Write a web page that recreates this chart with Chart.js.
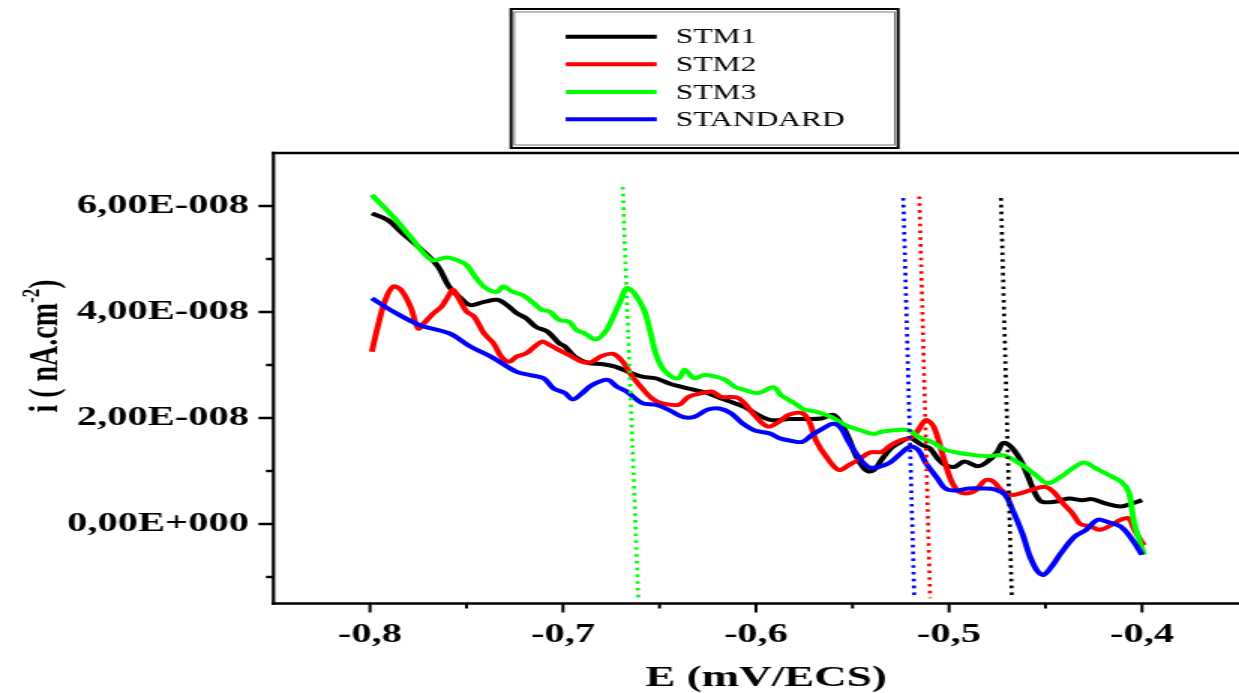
<!DOCTYPE html>
<html><head><meta charset="utf-8">
<script src="https://cdn.jsdelivr.net/npm/chart.js@4"></script>
<style>
html,body{margin:0;padding:0;background:#fff;overflow:hidden;}
#wrap{position:absolute;left:0;top:0;width:826px;height:693px;transform:scaleX(1.5);transform-origin:0 0;}
canvas{display:block;}
</style></head><body>
<div id="wrap"><canvas id="c" width="826" height="693" style="width:826px;height:693px"></canvas></div>
<script>
// ---- data (E in V, i in units of 1E-8 A/cm2) ----
const seriesNames = ['STM1', 'STM2', 'STM3', 'STANDARD'];
const seriesColors = ['#000000', '#ff0000', '#00ff00', '#0000ff'];

const stm1E = [-0.799,-0.791,-0.783,-0.774,-0.765,-0.759,-0.753,-0.748,-0.741,-0.734,-0.729,-0.724,-0.719,-0.714,-0.708,-0.702,-0.699,-0.694,-0.687,-0.680,-0.673,-0.666,-0.659,-0.652,-0.645,-0.639,-0.632,-0.625,-0.618,-0.611,-0.606,-0.599,-0.592,-0.583,-0.575,-0.566,-0.560,-0.556,-0.552,-0.548,-0.544,-0.541,-0.538,-0.535,-0.530,-0.525,-0.520,-0.514,-0.510,-0.506,-0.502,-0.497,-0.492,-0.485,-0.480,-0.475,-0.472,-0.468,-0.463,-0.459,-0.455,-0.452,-0.445,-0.438,-0.431,-0.426,-0.419,-0.411,-0.405,-0.400];
const stm1I = [5.86,5.74,5.48,5.20,4.87,4.48,4.26,4.13,4.19,4.23,4.13,3.98,3.88,3.72,3.63,3.41,3.35,3.16,3.04,3.02,2.97,2.87,2.78,2.75,2.65,2.59,2.53,2.47,2.37,2.28,2.21,2.06,1.96,1.98,1.98,1.99,2.06,1.90,1.62,1.27,1.05,0.99,1.05,1.21,1.43,1.55,1.62,1.49,1.43,1.24,1.11,1.08,1.18,1.09,1.18,1.36,1.53,1.46,1.21,0.89,0.55,0.42,0.42,0.48,0.45,0.47,0.39,0.33,0.39,0.45];

const stm2E = [-0.799,-0.796,-0.792,-0.788,-0.784,-0.779,-0.775,-0.772,-0.767,-0.763,-0.759,-0.757,-0.753,-0.750,-0.746,-0.741,-0.736,-0.732,-0.728,-0.724,-0.719,-0.711,-0.707,-0.702,-0.697,-0.690,-0.685,-0.680,-0.674,-0.669,-0.664,-0.659,-0.654,-0.649,-0.640,-0.635,-0.628,-0.623,-0.618,-0.610,-0.606,-0.601,-0.594,-0.588,-0.583,-0.576,-0.572,-0.569,-0.563,-0.557,-0.552,-0.547,-0.541,-0.535,-0.530,-0.525,-0.519,-0.516,-0.512,-0.508,-0.503,-0.499,-0.495,-0.490,-0.486,-0.481,-0.477,-0.473,-0.468,-0.463,-0.457,-0.450,-0.446,-0.441,-0.436,-0.432,-0.427,-0.422,-0.416,-0.411,-0.407,-0.404,-0.399];
const stm2I = [3.25,3.72,4.23,4.48,4.42,4.10,3.69,3.79,3.98,4.10,4.32,4.42,4.19,4.01,3.91,3.60,3.41,3.16,3.06,3.16,3.22,3.44,3.38,3.28,3.19,3.06,3.06,3.17,3.21,3.06,2.78,2.56,2.37,2.28,2.25,2.40,2.47,2.50,2.40,2.39,2.28,2.06,1.84,1.93,2.06,2.09,1.90,1.58,1.24,1.02,1.11,1.21,1.35,1.36,1.49,1.58,1.64,1.77,1.96,1.84,1.27,0.83,0.61,0.58,0.64,0.83,0.80,0.64,0.55,0.58,0.65,0.70,0.61,0.39,0.20,0.00,-0.04,-0.11,-0.02,0.08,0.11,-0.11,-0.40];

const stm3E = [-0.799,-0.788,-0.779,-0.768,-0.760,-0.753,-0.750,-0.745,-0.740,-0.734,-0.731,-0.726,-0.721,-0.715,-0.711,-0.707,-0.702,-0.697,-0.693,-0.689,-0.683,-0.678,-0.674,-0.670,-0.667,-0.663,-0.658,-0.655,-0.652,-0.649,-0.645,-0.640,-0.637,-0.632,-0.627,-0.621,-0.616,-0.611,-0.606,-0.599,-0.591,-0.587,-0.580,-0.575,-0.569,-0.561,-0.554,-0.546,-0.539,-0.535,-0.528,-0.521,-0.516,-0.509,-0.502,-0.493,-0.487,-0.480,-0.473,-0.468,-0.462,-0.455,-0.449,-0.442,-0.436,-0.430,-0.424,-0.417,-0.411,-0.407,-0.404,-0.399];
const stm3I = [6.21,5.80,5.42,4.98,5.03,4.95,4.89,4.64,4.45,4.38,4.48,4.38,4.32,4.16,4.04,4.01,3.85,3.82,3.66,3.60,3.48,3.63,3.91,4.23,4.45,4.35,4.04,3.66,3.22,2.97,2.81,2.75,2.91,2.75,2.81,2.78,2.72,2.59,2.53,2.47,2.58,2.43,2.28,2.16,2.12,2.02,1.87,1.77,1.70,1.74,1.77,1.77,1.65,1.55,1.40,1.33,1.30,1.28,1.30,1.24,1.11,0.92,0.77,0.89,1.05,1.16,1.05,0.92,0.80,0.61,0.01,-0.58];

const stdE = [-0.799,-0.788,-0.774,-0.759,-0.748,-0.736,-0.724,-0.717,-0.710,-0.705,-0.699,-0.695,-0.690,-0.685,-0.677,-0.672,-0.667,-0.659,-0.652,-0.645,-0.638,-0.632,-0.625,-0.619,-0.613,-0.607,-0.601,-0.593,-0.588,-0.582,-0.576,-0.571,-0.565,-0.560,-0.556,-0.552,-0.547,-0.542,-0.537,-0.531,-0.526,-0.520,-0.516,-0.512,-0.506,-0.502,-0.497,-0.490,-0.483,-0.476,-0.471,-0.467,-0.462,-0.458,-0.454,-0.451,-0.447,-0.442,-0.435,-0.429,-0.423,-0.418,-0.411,-0.405,-0.400];
const stdI = [4.26,4.01,3.75,3.60,3.35,3.13,2.87,2.81,2.75,2.56,2.47,2.35,2.47,2.62,2.72,2.59,2.50,2.28,2.25,2.15,2.02,2.02,2.16,2.18,2.09,1.90,1.77,1.71,1.62,1.57,1.55,1.68,1.81,1.89,1.81,1.55,1.27,1.08,1.07,1.15,1.30,1.46,1.40,1.15,0.86,0.67,0.63,0.67,0.67,0.65,0.55,0.26,-0.18,-0.62,-0.90,-0.96,-0.81,-0.55,-0.24,-0.11,0.08,0.04,-0.05,-0.30,-0.58];

// corrosion-potential marker lines (dotted), [top, bottom]
const ecorrE_stm1 = [-0.4731, -0.4675];
const ecorrE_stm2 = [-0.5154, -0.5098];
const ecorrE_stm3 = [-0.6691, -0.6610];
const ecorrE_std  = [-0.5237, -0.5180];
const ecorrI_stm1 = [6.15, -1.40];
const ecorrI_stm2 = [6.18, -1.40];
const ecorrI_stm3 = [6.36, -1.40];
const ecorrI_std  = [6.15, -1.40];

// ticks
const xMajorTicks = [-0.8, -0.7, -0.6, -0.5, -0.4];
const xTickLabels = ['-0,8', '-0,7', '-0,6', '-0,5', '-0,4'];
const xMinorTicks = [-0.75, -0.65, -0.55, -0.45];
const yMajorTicks = [0, 2, 4, 6];
const yTickLabels = ['0,00E+000', '2,00E-008', '4,00E-008', '6,00E-008'];
const yMinorTicks = [-1, 1, 3, 5];
const xTitle = 'E (mV/ECS)';
const yTitleMain = 'i ( nA.cm';
const yTitleSup = '-2';
const yTitleEnd = ')';

// ---- chart ----
const FONT = '"Liberation Serif", "Times New Roman", serif';
const pts = (E, I) => E.slice(0, Math.min(E.length, I.length)).map((e, k) => ({x: e, y: I[k]}));
const findLabel = (v, vals, labels) => { const k = vals.findIndex(t => Math.abs(t - v) < 1e-9); return k >= 0 ? labels[k] : ''; };

const curves = [[stm1E, stm1I], [stm2E, stm2I], [stm3E, stm3I], [stdE, stdI]];
const markers = [[ecorrE_stm1, ecorrI_stm1], [ecorrE_stm2, ecorrI_stm2], [ecorrE_stm3, ecorrI_stm3], [ecorrE_std, ecorrI_std]];

const datasets = [];
curves.forEach(([E, I], k) => datasets.push({
  label: seriesNames[k], data: pts(E, I), borderColor: seriesColors[k], backgroundColor: seriesColors[k],
  borderWidth: 4, pointRadius: 0, showLine: true, tension: 0.35, order: 4 - k, fill: false
}));
markers.forEach(([E, I], k) => datasets.push({
  label: '', data: pts(E, I), borderColor: seriesColors[k], borderWidth: 2.7, borderDash: [2.6, 4.2],
  pointRadius: 0, showLine: true, tension: 0, order: 0, fill: false
}));

const frame = {
  id: 'frame',
  afterDraw(chart) {
    const {ctx, chartArea: a, scales: {x, y}} = chart;
    const seg = (x1, y1, x2, y2) => { ctx.beginPath(); ctx.moveTo(x1, y1); ctx.lineTo(x2, y2); ctx.stroke(); };
    ctx.save();
    ctx.strokeStyle = '#000';
    ctx.lineWidth = 2.5;
    seg(a.left - 1.1, a.top, a.right + 2, a.top);
    seg(a.left - 1.1, a.bottom, a.right + 2, a.bottom);
    ctx.lineWidth = 2.2;
    seg(a.left, a.top - 1.25, a.left, a.bottom + 1.25);
    ctx.lineWidth = 2.5;
    yMajorTicks.forEach(v => { const p = y.getPixelForValue(v); seg(a.left - 10, p, a.left, p); });
    yMinorTicks.forEach(v => { const p = y.getPixelForValue(v); seg(a.left - 5, p, a.left, p); });
    ctx.lineWidth = 2;
    xMajorTicks.forEach(v => { const p = x.getPixelForValue(v); seg(p, a.bottom, p, a.bottom + 9); });
    xMinorTicks.forEach(v => { const p = x.getPixelForValue(v); seg(p, a.bottom, p, a.bottom + 5); });

    // axis titles
    ctx.fillStyle = '#000';
    ctx.font = `bold 30px ${FONT}`;
    ctx.textAlign = 'center';
    ctx.textBaseline = 'alphabetic';
    ctx.fillText(xTitle, 510.7, 686);

    ctx.save();
    ctx.translate(37.5, 346);
    ctx.rotate(-Math.PI / 2);
    ctx.textAlign = 'left';
    const mainF = `bold 28px ${FONT}`, supF = `bold 17px ${FONT}`;
    ctx.font = mainF; const w1 = ctx.measureText(yTitleMain).width; const w3 = ctx.measureText(yTitleEnd).width;
    ctx.font = supF; const w2 = ctx.measureText(yTitleSup).width;
    let sx = -(w1 + w2 + w3) / 2;
    ctx.font = mainF; ctx.fillText(yTitleMain, sx, 0); sx += w1;
    ctx.font = supF; ctx.fillText(yTitleSup, sx, -12); sx += w2;
    ctx.font = mainF; ctx.fillText(yTitleEnd, sx, 0);
    ctx.restore();

    // legend box
    const L = 340.7, R = 598.7, T = 9, B = 148;
    ctx.lineWidth = 2;
    ctx.strokeRect(L, T, R - L, B - T);
    ctx.lineWidth = 0.8;
    ctx.strokeStyle = '#555';
    ctx.strokeRect(L + 2.2, T + 3, R - L - 4.4, B - T - 6);
    const rows = [36.7, 64.3, 92, 119.3];
    ctx.font = `21px ${FONT}`;
    ctx.textBaseline = 'middle';
    ctx.textAlign = 'left';
    chart.data.datasets.slice(0, 4).forEach((ds, k) => {
      ctx.strokeStyle = ds.borderColor; ctx.lineWidth = 4;
      seg(377.1, rows[k], 437.8, rows[k]);
      ctx.fillStyle = '#000';
      ctx.fillText(ds.label, 450.5, rows[k] + 1);
    });
    ctx.restore();
  }
};

new Chart(document.getElementById('c'), {
  type: 'scatter',
  data: {datasets},
  options: {
    responsive: false, animation: false, events: [], devicePixelRatio: 1,
    layout: {padding: {top: 153, left: 0, right: 0.3, bottom: 0}},
    plugins: {legend: {display: false}, tooltip: {enabled: false}, title: {display: false}},
    scales: {
      x: {
        type: 'linear', min: -0.85, max: -0.35,
        afterBuildTicks: s => { s.ticks = [...xMajorTicks, ...xMinorTicks].sort((p, q) => p - q).map(v => ({value: v})); },
        afterFit: s => { s.height = 89.5; },
        grid: {display: false, drawTicks: false}, border: {display: false},
        ticks: {autoSkip: false, maxRotation: 0, minRotation: 0, padding: 15, color: '#000',
          font: {family: FONT, size: 27, weight: 'bold'}, callback: v => findLabel(v, xMajorTicks, xTickLabels)}
      },
      y: {
        type: 'linear', min: -1.5, max: 7,
        afterBuildTicks: s => { s.ticks = [...yMajorTicks, ...yMinorTicks].sort((p, q) => p - q).map(v => ({value: v})); },
        afterFit: s => { s.width = 182.3; },
        grid: {display: false, drawTicks: false}, border: {display: false},
        ticks: {autoSkip: false, padding: 16.3, color: '#000',
          font: {family: FONT, size: 27, weight: 'bold'}, callback: v => findLabel(v, yMajorTicks, yTickLabels)}
      }
    }
  },
  plugins: [frame]
});
</script>
</body></html>
